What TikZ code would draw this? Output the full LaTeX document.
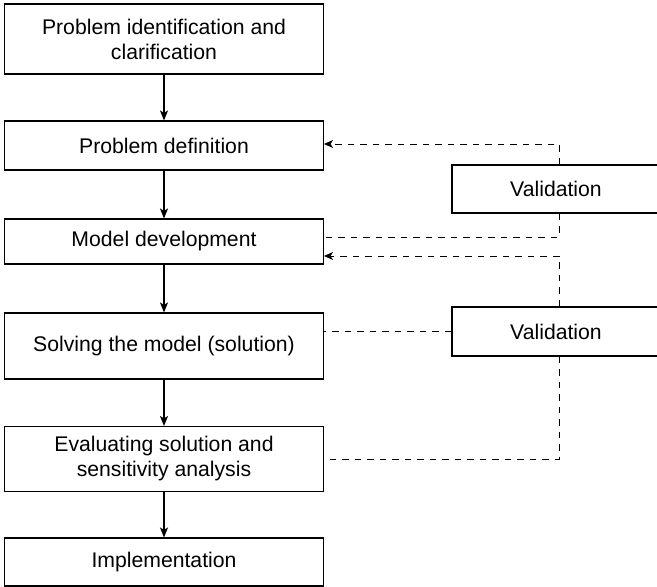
\documentclass[tikz,border=0pt]{standalone}
\usepackage{fontspec}
\setmainfont{Liberation Sans}
\usetikzlibrary{arrows.meta}
\begin{document}
\begin{tikzpicture}[x=1pt,y=-1pt,
  stage/.style={draw, line width=1.1pt, minimum width=319pt, inner sep=0pt,
    align=center, font=\fontsize{21.2}{25}\selectfont},
  check/.style={draw, line width=1.1pt, minimum width=208pt, inner sep=0pt,
    align=center, font=\fontsize{21.2}{25}\selectfont},
  flow/.style={line width=1.1pt, -{Stealth[length=10pt,width=8pt,inset=2.5pt]}},
  feedback/.style={line width=0.9pt, dash pattern=on 6.5pt off 6pt},
  feedarrow/.style={feedback, -{Stealth[length=9pt,width=8pt,inset=2.5pt]}}]
  \useasboundingbox (0,0) rectangle (657,587);

  % main sequence of stages
  \node[stage, minimum height=70pt] (b1) at (164,39)
    {Problem identification and\\clarification};
  \node[stage, minimum height=49pt] (b2) at (164,145.5) {Problem definition};
  \node[stage, minimum height=45pt] (b3) at (164,241.5) {Model development};
  \node[stage, minimum height=66pt] (b4) at (164,346) {Solving the model (solution)};
  \node[stage, minimum height=65pt] (b5) at (164,459)
    {Evaluating solution and\\sensitivity analysis};
  \node[stage, minimum height=48pt] (b6) at (164,562) {Implementation};

  % validation boxes
  \node[check, minimum height=48pt] (v1) at (556,189) {Validation};
  \node[check, minimum height=49pt] (v2) at (556,331.5) {Validation};

  % solid flow
  \draw[flow] (b1) -- (b2);
  \draw[flow] (b2) -- (b3);
  \draw[flow] (b3) -- (b4);
  \draw[flow] (b4) -- (b5);
  \draw[flow] (b5) -- (b6);

  % feedback routes
  \coordinate (j1) at (559,144);
  \coordinate (j2) at (559,237);
  \coordinate (j3) at (559,256);
  \coordinate (j4) at (559,459);

  \draw[feedarrow] (v1.north -| j1) -- (j1) -- (j1 -| b2.east);
  \draw[feedback] (v1.south -| j2) -- (j2) -- (j2 -| b3.east);
  \draw[feedarrow] (v2.north -| j3) -- (j3) -- (j3 -| b3.east);
  \draw[feedback] (v2.west) -- (v2.west -| b4.east);
  \draw[feedback] (v2.south -| j4) -- (j4) -- (j4 -| b5.east);
\end{tikzpicture}
\end{document}
